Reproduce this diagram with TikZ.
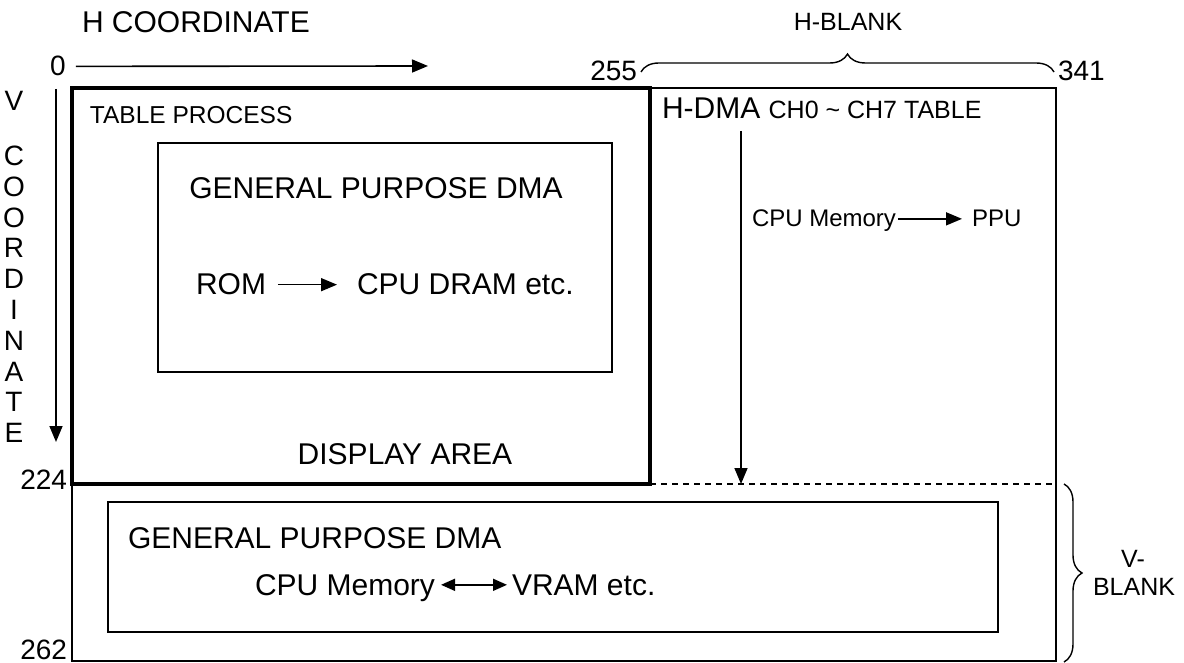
\documentclass[tikz,border=0pt]{standalone}
\usepackage{fontspec}
\setmainfont{Liberation Sans}
\usetikzlibrary{arrows.meta,decorations.pathreplacing}
\newcommand{\myfs}[1]{\fontsize{#1}{#1}\selectfont}
\begin{document}
\begin{tikzpicture}[x=0.5pt,y=-0.5pt,
  lbl/.style={inner sep=0pt, outer sep=0pt, font=\myfs{15}},
  small/.style={lbl, font=\myfs{12.5}},
  num/.style={lbl, font=\myfs{14}},
  frame/.style={line width=1pt},
  thickframe/.style={line width=1.6pt},
  dotline/.style={line width=1.2pt, dash pattern=on 3pt off 2.5pt},
  arr/.style={line width=0.8pt, -{Triangle[length=8pt,width=6.5pt]}},
  darr/.style={line width=0.8pt, {Triangle[length=7pt,width=6pt]}-{Triangle[length=7pt,width=6pt]}},
  bracestyle/.style={line width=0.7pt, decorate, decoration={brace, amplitude=9pt}}
]
\useasboundingbox (0,0) rectangle (1184,663);

% frames
\draw[frame] (72,88) rectangle (1056,661);
\draw[thickframe] (72,88) -- (650,88) -- (650,484) -- (72,484) -- cycle;
\draw[dotline] (650,484) -- (1056,484);
\draw[frame] (158,143) rectangle (612,372);
\draw[frame] (108,502) rectangle (998,632);

% H coordinate
\node[lbl, anchor=base west] (hcoord) at (82,33) {H COORDINATE};
\node[num, anchor=base] (zero) at (58,76) {0};
\coordinate (hend) at (428,66);
\draw[arr] ([xshift=5pt]zero.east) -- (hend);

% V coordinate
\node[num, anchor=base] (vv) at (14,111) {V};
\node[lbl, font=\fontsize{14}{15.4}\selectfont, align=center, anchor=north] (vcoord) at (14,146) {C\\O\\O\\R\\D\\I\\N\\A\\T\\E};
\coordinate (vtop) at (56,89);
\coordinate (vbot) at (56,442);
\draw[arr] (vtop) -- (vbot);

% display area
\node[small, font=\myfs{12.25}, anchor=base west] (tp) at (90,124) {TABLE PROCESS};
\node[lbl, anchor=base] (gp1) at (376,199) {GENERAL PURPOSE DMA};
\node[lbl, anchor=base west] (rom) at (196,295) {ROM};
\node[lbl, anchor=base west] (cpudram) at (357,295) {CPU DRAM etc.};
\draw[arr] ([xshift=6pt]rom.east) -- ([xshift=-10pt]cpudram.west);
\node[lbl, anchor=base] (disp) at (405,464) {DISPLAY AREA};

% H-DMA
\node[lbl, anchor=base west] (hdma) at (662,119) {H-DMA {\myfs{12.5}CH0 \textasciitilde{} CH7 TABLE}};
\coordinate (hdtop) at (741,131);
\coordinate (hdbot) at (741,484);
\draw[arr] (hdtop) -- (hdbot);
\node[lbl, font=\myfs{12}, anchor=base west] (cpumem) at (752,227) {CPU Memory};
\node[lbl, font=\myfs{12}, anchor=base west] (ppu) at (972,227) {PPU};
\coordinate (m1) at (cpumem.east |- ppu.west);
\draw[arr] ([xshift=1pt]m1) -- ([xshift=-5pt]ppu.west);

% H-blank brace
\draw[bracestyle] (641,72) -- (1054,72);
\node[num, anchor=base east] (n255) at (637,81) {255};
\node[num, anchor=base west] (n341) at (1058,81) {341};
\node[small, anchor=base] (hblank) at (848,31) {H-BLANK};

% V-blank
\node[num, anchor=base east] (n224) at (67,489) {224};
\node[num, anchor=base east] (n262) at (67,659) {262};
\node[lbl, anchor=base west] (gp2) at (128,548) {GENERAL PURPOSE DMA};
\node[lbl, anchor=base west] (cpumem2) at (255,595) {CPU Memory};
\node[lbl, anchor=base west] (vram) at (512,595) {VRAM etc.};
\coordinate (m2) at (cpumem2.east |- vram.west);
\draw[darr] ([xshift=3pt]m2) -- ([xshift=-2.5pt]vram.west);
\draw[bracestyle] (1064,484) -- (1064,662);
\node[small, anchor=base] (vb1) at (1133,567) {V-};
\node[small, anchor=base] (vb2) at (1134,595) {BLANK};
\end{tikzpicture}
\end{document}
